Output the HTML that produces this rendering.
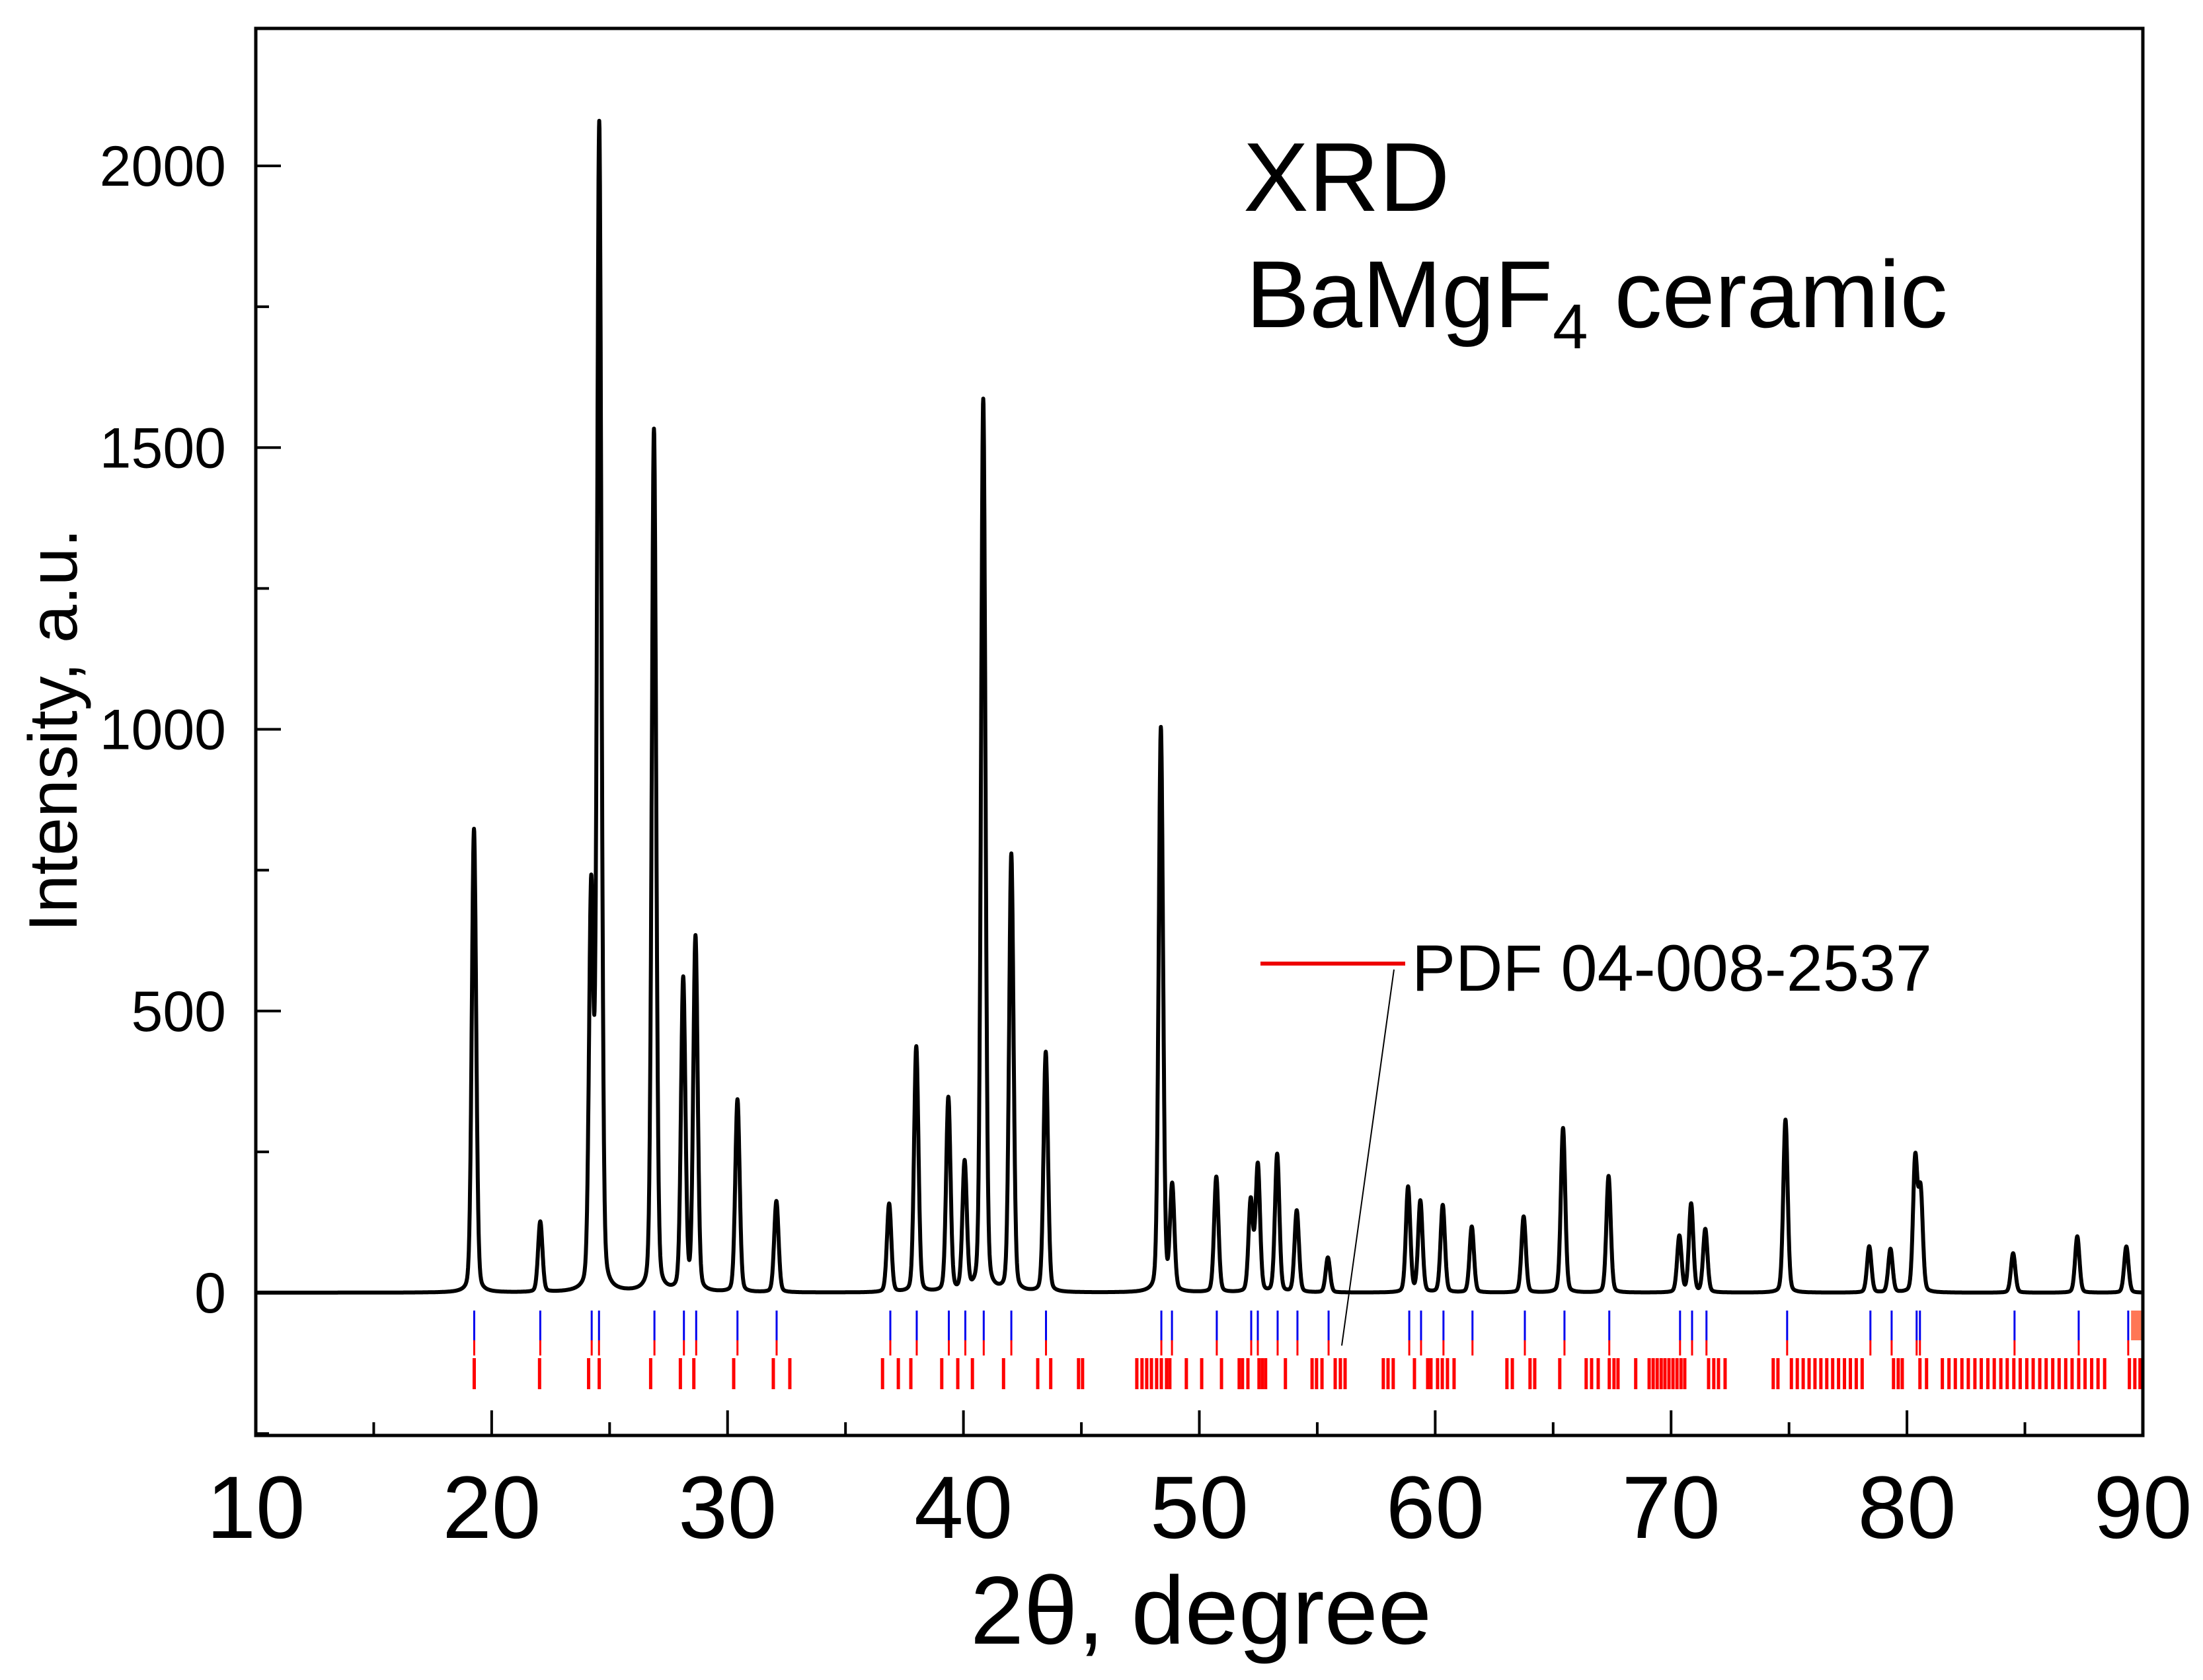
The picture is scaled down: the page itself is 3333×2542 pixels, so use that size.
<!DOCTYPE html>
<html><head><meta charset="utf-8"><style>
html,body{margin:0;padding:0;background:#fff;}
svg{display:block;font-family:"Liberation Sans",Arial,sans-serif;}
</style></head><body>
<svg id="chart" width="3333" height="2542" viewBox="0 0 3333 2542" xmlns="http://www.w3.org/2000/svg">
<rect x="0" y="0" width="3333" height="2542" fill="#fff"/>
<g id="sticks"></g>
<g id="ticks"></g>
<path id="curve" fill="none" stroke="#000" stroke-width="6" stroke-linejoin="round"/>
<rect x="387" y="43" width="2855" height="2129" fill="none" stroke="#000" stroke-width="5"/>
<text x="1881" y="319" font-size="148">XRD</text>
<text x="1885" y="495" font-size="144">BaMgF<tspan font-size="96" dy="32">4</tspan><tspan dy="-32"> ceramic</tspan></text>
<line x1="1907" y1="1458" x2="2126" y2="1458" stroke="#e00" stroke-width="6"/>
<text x="2136" y="1499" font-size="99">PDF 04-008-2537</text>
<line x1="2109" y1="1467" x2="2030" y2="2036" stroke="#000" stroke-width="2"/>
<text transform="translate(116,1105) rotate(-90)" text-anchor="middle" font-size="104">Intensity, a.u.</text>
<text x="1817" y="2487" text-anchor="middle" font-size="146">2θ, degree</text>
</svg>
<script>
const peakPos=[19.25,22.06,24.22,24.56,26.88,28.12,28.64,30.42,32.07,36.85,38.0,39.36,40.05,40.84,42.03,43.49,48.37,48.85,50.72,52.18,52.48,53.3,54.13,55.45,58.85,59.37,60.32,61.55,63.75,65.42,67.35,70.35,70.85,71.45,74.85,78.4,79.3,80.35,80.58,84.5,87.22,89.3];
const peakInt=[823,125,700,2065,1531,553,628,342,162,157,436,344,227,1584,776,426,1002,185,205,162,225,245,145,62,187,162,155,117,135,292,207,100,157,112,307,82,77,234,175,70,100,82];
const bluePos=[19.26,22.06,24.24,24.55,26.9,28.15,28.67,30.42,32.08,36.9,38.02,39.38,40.08,40.86,42.03,43.5,48.39,48.84,50.74,52.2,52.48,53.32,54.16,55.48,58.9,59.4,60.35,61.58,63.8,65.48,67.38,70.38,70.89,71.5,74.92,78.45,79.35,80.41,80.55,84.56,87.28,89.38];
const redPos=[19.26,22.03,24.11,24.56,26.74,28.0,28.57,30.26,31.94,32.64,36.57,37.24,37.77,39.08,39.76,40.38,41.7,43.15,43.7,44.88,45.05,47.35,47.57,47.77,47.97,48.19,48.39,48.61,48.75,49.45,50.1,50.94,51.69,51.83,52.06,52.53,52.67,52.81,53.65,54.78,54.97,55.2,55.76,55.98,56.18,57.8,58.0,58.22,59.12,59.68,59.82,60.1,60.3,60.52,60.8,63.04,63.27,64.02,64.22,65.28,66.4,66.63,66.91,67.38,67.58,67.75,68.5,69.07,69.24,69.41,69.58,69.74,69.91,70.08,70.25,70.42,70.58,71.59,71.81,72.01,72.29,74.33,74.53,75.1,75.35,75.6,75.85,76.1,76.35,76.6,76.85,77.1,77.35,77.6,77.85,78.1,79.43,79.63,79.8,80.55,80.83,81.5,81.78,82.05,82.33,82.6,82.88,83.15,83.43,83.7,83.98,84.25,84.53,84.8,85.08,85.35,85.63,85.9,86.18,86.45,86.73,87.0,87.28,87.55,87.83,88.1,88.38,89.43,89.66,89.88];
const xTicks=[10,20,30,40,50,60,70,80,90];
const yTicks=[0,500,1000,1500,2000];

const X0=387,X1=3242,Y0=43,Y1=2172;
const xMin=10,xMax=90,yBase=1956,yPerUnit=(1956-251)/2000;
function sx(d){return X0+(d-xMin)/(xMax-xMin)*(X1-X0);}
function sy(v){return yBase-v*yPerUnit;}
const NS="http://www.w3.org/2000/svg";
function mk(tag,parent,attrs){const e=document.createElementNS(NS,tag);for(const k in attrs)e.setAttribute(k,attrs[k]);parent.appendChild(e);return e;}

let d="";
const w=0.11;
for(let t=xMin;t<=xMax+1e-9;t+=0.01){
  let v=0;
  for(let i=0;i<peakPos.length;i++){
    const u=(t-peakPos[i])/w;
    v+=peakInt[i]*(0.8*Math.exp(-0.693*u*u)+0.2/(1+u*u));
  }
  const px=sx(t),py=Math.max(Y0,sy(v));
  d+=(d?"L":"M")+px.toFixed(1)+","+py.toFixed(1);
}
document.getElementById('curve').setAttribute('d',d);

const sg=document.getElementById('sticks');
bluePos.forEach(p=>{
  const l=mk('line',sg,{x1:sx(p),x2:sx(p),y1:1983,y2:2028,stroke:'#0000ee','stroke-width':3});
  
  
  const c=mk('line',sg,{x1:sx(p),x2:sx(p),y1:2028,y2:2051,stroke:'#ff0000','stroke-width':3});
  
  
});
const orange=mk('rect',sg,{x:sx(89.5),y:1983,width:X1-sx(89.5),height:45,fill:'#ff7755'});


redPos.forEach(p=>{
  const l=mk('line',sg,{x1:sx(p),x2:sx(p),y1:2055,y2:2102,stroke:'#ff0000','stroke-width':5});
  
  
});

const tg=document.getElementById('ticks');
for(let v=xMin;v<=xMax;v+=5){
  const major=xTicks.includes(v);
  const l=mk('line',tg,{x1:sx(v),x2:sx(v),y1:Y1,y2:Y1-(major?38:20),stroke:'#000','stroke-width':4});
  
  
}
xTicks.forEach(v=>{
  const t=mk('text',tg,{x:sx(v),y:2327,'text-anchor':'middle','font-size':134});
  t.textContent=v;
  
  
});
for(let v=-250;v<=2250;v+=250){
  const y=sy(v); if(y<Y0||y>Y1)continue;
  const major=yTicks.includes(v);
  const l=mk('line',tg,{x1:X0,x2:X0+(major?38:20),y1:y,y2:y,stroke:'#000','stroke-width':4});
  
  
}
yTicks.forEach(v=>{
  const t=mk('text',tg,{x:342,y:sy(v)+30,'text-anchor':'end','font-size':86});
  t.textContent=v;
  
  
});
</script>
</body></html>
